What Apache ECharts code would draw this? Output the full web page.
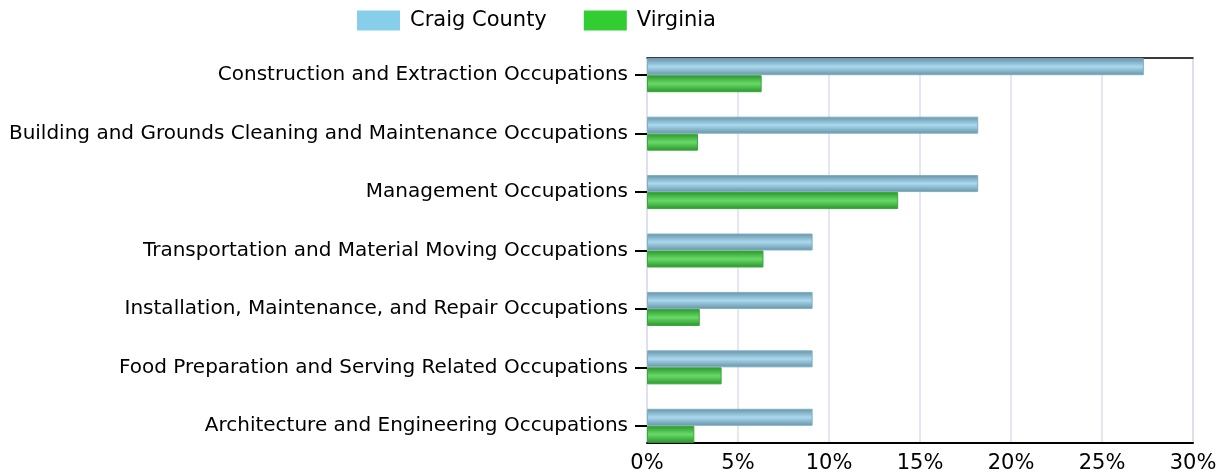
<!DOCTYPE html>
<html>
<head>
<meta charset="utf-8">
<style>
  html, body { margin: 0; padding: 0; background: #fff; }
  #chart { width: 1229px; height: 475px; }
</style>
<script src="https://cdn.jsdelivr.net/npm/echarts@6/dist/echarts.min.js"></script>
</head>
<body>
<div id="chart"></div>
<script>
// data
var categories = [
  'Construction and Extraction Occupations',
  'Building and Grounds Cleaning and Maintenance Occupations',
  'Management Occupations',
  'Transportation and Material Moving Occupations',
  'Installation, Maintenance, and Repair Occupations',
  'Food Preparation and Serving Related Occupations',
  'Architecture and Engineering Occupations'
]
var craigCounty = [27.3, 18.2, 18.2, 9.1, 9.1, 9.1, 9.1]
var virginia = [6.3, 2.8, 13.8, 6.4, 2.9, 4.1, 2.6]
var seriesNames = ['Craig County', 'Virginia']

var font = 'DejaVu Sans, Verdana, sans-serif'

function barGradient(edge, mid) {
  return new echarts.graphic.LinearGradient(0, 0, 0, 1, [
    { offset: 0, color: edge },
    { offset: 0.5, color: mid },
    { offset: 1, color: edge }
  ])
}

var chart = echarts.init(document.getElementById('chart'))

chart.setOption({
  animation: false,
  legend: {
    left: 357,
    top: 10,
    padding: 0,
    itemWidth: 43,
    itemHeight: 20,
    itemGap: 37,
    textStyle: { fontFamily: font, fontSize: 21, color: '#000', padding: [0, 0, 0, 5] },
    data: [
      { name: seriesNames[0], icon: 'rect', itemStyle: { color: '#87CEEB', borderWidth: 0 } },
      { name: seriesNames[1], icon: 'rect', itemStyle: { color: '#32CD32', borderWidth: 0 } }
    ]
  },
  grid: [
    // frame, gridlines and value axis
    { left: 647, right: 36, top: 58, bottom: 32, show: true, borderColor: '#d0d0e4', borderWidth: 1 },
    // bars and category labels
    { left: 647, right: 36, top: 46, bottom: 20 }
  ],
  xAxis: [
    {
      gridIndex: 0,
      type: 'value',
      min: 0,
      max: 30,
      interval: 5,
      axisLine: { show: true, lineStyle: { color: '#000', width: 2 } },
      axisTick: { show: false },
      axisLabel: { margin: 10, fontFamily: font, fontSize: 21, color: '#000', formatter: '{value}%' },
      splitLine: { show: true, lineStyle: { color: '#dcdcf0', width: 1.5 } }
    },
    {
      gridIndex: 0,
      type: 'value',
      position: 'top',
      min: 0,
      max: 30,
      axisLine: { show: true, lineStyle: { color: '#000', width: 1.5 } },
      axisTick: { show: false },
      axisLabel: { show: false },
      splitLine: { show: false }
    },
    {
      gridIndex: 1,
      type: 'value',
      min: 0,
      max: 30,
      show: false
    }
  ],
  yAxis: [
    {
      gridIndex: 0,
      type: 'category',
      data: categories,
      show: false
    },
    {
      gridIndex: 1,
      type: 'category',
      data: categories,
      inverse: true,
      axisLine: { show: false },
      axisTick: { show: true, alignWithLabel: true, length: 12, lineStyle: { color: '#000', width: 2 } },
      axisLabel: { margin: 19, fontFamily: font, fontSize: 20, color: '#000', padding: [4, 0, 0, 0] },
      splitLine: { show: false }
    }
  ],
  series: [
    {
      name: seriesNames[0],
      type: 'bar',
      xAxisIndex: 2,
      yAxisIndex: 1,
      barWidth: 17,
      barGap: '0%',
      data: craigCounty,
      itemStyle: { color: barGradient('#6792a6', '#a9d9ee'), borderColor: '#7fb0c4', borderWidth: 1 }
    },
    {
      name: seriesNames[1],
      type: 'bar',
      xAxisIndex: 2,
      yAxisIndex: 1,
      barWidth: 17,
      barGap: '0%',
      data: virginia,
      itemStyle: { color: barGradient('#2b942b', '#68da68'), borderColor: '#3aa83a', borderWidth: 1 }
    }
  ]
})
</script>
</body>
</html>
